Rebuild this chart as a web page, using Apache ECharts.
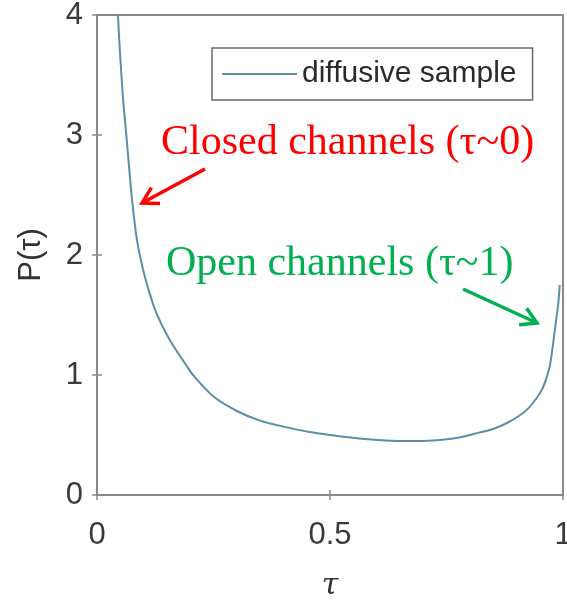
<!DOCTYPE html>
<html><head><meta charset="utf-8">
<script src="https://cdn.jsdelivr.net/npm/echarts@6/dist/echarts.min.js"></script>
<style>html,body{margin:0;padding:0;background:#fff}#c{width:567px;height:600px}</style>
</head><body><div id="c"></div>
<script>
const tau = [0.035, 0.045, 0.055, 0.064, 0.075, 0.086, 0.1, 0.113, 0.125, 0.14, 0.155, 0.171, 0.19, 0.206, 0.25, 0.3, 0.35, 0.4, 0.456, 0.5, 0.563, 0.62, 0.67, 0.72, 0.777, 0.82, 0.85, 0.88, 0.906, 0.925, 0.942, 0.955, 0.964, 0.972, 0.98, 0.985, 0.99, 0.993];
const P = [5.0, 4.0, 3.35, 2.95, 2.47, 2.12, 1.86, 1.68, 1.54, 1.41, 1.3, 1.2, 1.09, 1.0, 0.82, 0.7, 0.62, 0.57, 0.525, 0.5, 0.47, 0.455, 0.45, 0.455, 0.48, 0.52, 0.55, 0.6, 0.66, 0.72, 0.8, 0.88, 0.97, 1.08, 1.3, 1.45, 1.6, 1.75];
const xTicks = [0, 0.5, 1];
const yTicks = [0, 1, 2, 3, 4];
const seriesName = 'diffusive sample';
const notes = [
  {text: 'Closed channels (τ~0)', color: '#ff0000'},
  {text: 'Open channels (τ~1)', color: '#00b050'}
];

const lineColor = '#5d8ea6';
const axisGray = '#8a8a8a';
const labelColor = '#3a3a3a';

function arrow(x1, y1, x2, y2, color) {
  const dx = x2 - x1, dy = y2 - y1, L = Math.hypot(dx, dy);
  const bx = -dx / L, by = -dy / L, h = 18, a = Math.PI / 6;
  const c = Math.cos(a), s = Math.sin(a);
  const p1 = [x2 + h * (bx * c - by * s), y2 + h * (bx * s + by * c)];
  const p2 = [x2 + h * (bx * c + by * s), y2 + h * (-bx * s + by * c)];
  return [
    {type: 'line', shape: {x1, y1, x2, y2}, style: {stroke: color, lineWidth: 3.5}},
    {type: 'polyline', shape: {points: [p1, [x2, y2], p2]}, style: {stroke: color, lineWidth: 3.5, fill: null}}
  ];
}

const chart = echarts.init(document.getElementById('c'), null, {renderer: 'canvas'});
const axCommon = {
  type: 'value',
  splitLine: {show: false},
  axisTick: {inside: true, length: 5, lineStyle: {color: axisGray, width: 1.5}},
  axisLine: {show: true, lineStyle: {color: axisGray, width: 2}},
};
chart.setOption({
  animation: false,
  backgroundColor: '#fff',
  grid: {left: 97, top: 15, width: 466, height: 480, show: true, borderColor: axisGray, borderWidth: 2, containLabel: false, outerBoundsMode: 'none'},
  legend: {
    show: true, left: 212, top: 48,
    data: [{name: seriesName, icon: 'rect'}],
    itemWidth: 75, itemHeight: 2,
    padding: [11, 16, 11, 10],
    borderColor: '#6a6a6a', borderWidth: 1.5,
    textStyle: {fontFamily: 'Liberation Sans', fontSize: 30, color: '#2a2a2a'}
  },
  xAxis: [
    Object.assign({}, axCommon, {
      min: 0, max: 1, interval: 0.5, position: 'bottom',
      axisLabel: {fontFamily: 'Liberation Sans', fontSize: 31, color: labelColor, margin: 25,
        formatter: v => xTicks.includes(v) ? String(v) : ''},
      name: 'τ', nameLocation: 'middle', nameGap: 76,
      nameTextStyle: {fontFamily: 'DejaVu Serif', fontStyle: 'italic', fontSize: 30, color: '#333'}
    }),
    Object.assign({}, axCommon, {min: 0, max: 1, interval: 0.5, position: 'top', axisLabel: {show: false}})
  ],
  yAxis: [
    Object.assign({}, axCommon, {
      min: 0, max: 4, interval: 1, position: 'left',
      axisLabel: {fontFamily: 'Liberation Sans', fontSize: 31, color: labelColor, margin: 14,
        formatter: v => yTicks.includes(v) ? String(v) : ''},
      name: 'P(τ)', nameLocation: 'middle', nameGap: 50, nameRotate: 90,
      nameTextStyle: {fontFamily: 'Liberation Sans', fontSize: 31, color: '#333'}
    }),
    Object.assign({}, axCommon, {min: 0, max: 4, interval: 1, position: 'right', axisLabel: {show: false}})
  ],
  series: [{
    name: seriesName, type: 'line', xAxisIndex: 0, yAxisIndex: 0,
    data: tau.map((t, i) => [t, P[i]]),
    smooth: 0.3, symbol: 'none', clip: true,
    lineStyle: {color: lineColor, width: 2},
    itemStyle: {color: lineColor}
  }],
  graphic: [
    {type: 'text', left: 161, top: 122, style: {text: notes[0].text, fill: notes[0].color, font: '42px "Liberation Serif"'}},
    {type: 'text', left: 166, top: 243, style: {text: notes[1].text, fill: notes[1].color, font: '42px "Liberation Serif"'}},
    ...arrow(205, 169, 142, 203, notes[0].color),
    ...arrow(463, 289, 537, 323, notes[1].color)
  ]
});
</script></body></html>
